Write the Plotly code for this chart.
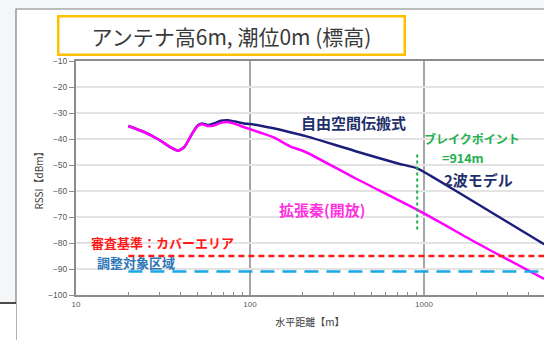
import plotly.graph_objects as go

# ---- data -----------------------------------------------------------------
# horizontal distance [m] and received level [dBm]
hata_dist = [20, 25, 30, 35, 38.7, 42, 46, 50, 53, 57, 62, 68, 74, 82, 92, 100,
             115, 137, 170, 207, 400, 1000, 2000, 4900]
hata_rssi = [-35.0, -37.5, -40.3, -43.2, -44.5, -43.0, -38.5, -35.0, -34.3, -35.0,
             -34.8, -33.8, -33.5, -34.2, -35.4, -36.2, -37.6, -39.4, -42.8, -44.9,
             -55.0, -68.6, -79.9, -93.8]

two_ray_dist = [20, 25, 30, 35, 38.7, 42, 46, 50, 53, 57, 62, 68, 74, 82, 92, 100,
                115, 137, 170, 207, 400, 700, 914, 1100, 2000, 4900]
two_ray_rssi = [-35.0, -37.5, -40.3, -43.2, -44.5, -43.0, -38.5, -34.8, -34.0, -34.6,
                -34.0, -33.0, -32.8, -33.3, -34.0, -34.2, -34.9, -35.9, -37.4, -38.8,
                -44.6, -49.3, -51.3, -54.3, -64.7, -80.5]

breakpoint_m = 914
review_level = -85      # 審査基準：カバーエリア
coord_level = -91       # 調整対象区域
level_start_m = 20
level_end_m = 6000
bp_line_top, bp_line_bottom = -46, -75

x_ticks = [10, 100, 1000]
x_tick_text = ["10", "100", "1000"]
x_minor = [d * m for d in (10, 100, 1000) for m in range(2, 10)]

# ---- layout helpers (pixel -> paper) ---------------------------------------
W, H = 544, 340


def px(x):
    return x / W


def py(y):
    return 1 - y / H


JP = "Noto Sans CJK JP"
NAVY_LINE = "#1c1f7a"
NAVY_TEXT = "#1f2f6b"

fig = go.Figure()

fig.add_trace(go.Scatter(x=two_ray_dist, y=two_ray_rssi, mode="lines",
                         line=dict(color=NAVY_LINE, width=2.5, shape="spline", smoothing=0.6),
                         hoverinfo="skip"))
fig.add_trace(go.Scatter(x=hata_dist, y=hata_rssi, mode="lines",
                         line=dict(color="#ff00ff", width=2.5, shape="spline", smoothing=0.6),
                         hoverinfo="skip"))
fig.add_trace(go.Scatter(x=[level_start_m, level_end_m], y=[review_level, review_level],
                         mode="lines", line=dict(color="#ff1a1a", width=2.5, dash="6px,4px"),
                         hoverinfo="skip"))
fig.add_trace(go.Scatter(x=[level_start_m, level_end_m], y=[coord_level, coord_level],
                         mode="lines", line=dict(color="#18a8e8", width=2.5, dash="14px,8px"),
                         hoverinfo="skip"))
fig.add_trace(go.Scatter(x=[breakpoint_m, breakpoint_m], y=[bp_line_top, bp_line_bottom],
                         mode="lines", line=dict(color="#22b050", width=2, dash="dot"),
                         hoverinfo="skip"))

shapes = [
    # page background and the white panel
    dict(type="rect", xref="paper", yref="paper", x0=0, x1=1, y0=0, y1=1,
         fillcolor="#f5f6f7", line=dict(width=0), layer="below"),
    dict(type="rect", xref="paper", yref="paper", x0=px(16), x1=1.02, y0=-0.02, y1=py(9),
         fillcolor="white", line=dict(color="#7f7f7f", width=1.2), layer="below"),
    dict(type="rect", xref="paper", yref="paper", x0=0, x1=px(16), y0=0, y1=py(303),
         fillcolor="white", line=dict(width=0), layer="below"),
    dict(type="line", xref="paper", yref="paper", x0=0, x1=px(16), y0=py(303), y1=py(303),
         line=dict(color="#111111", width=1.5), layer="below"),
]

annotations = [
    dict(text="アンテナ高6m, 潮位0m (標高)", xref="paper", yref="paper",
         x=px(231), y=py(36), showarrow=False, width=344, height=36,
         bordercolor="#ffc000", borderwidth=2.5, borderpad=0, bgcolor="white",
         font=dict(family=JP, size=21, color="#3a3a3a")),
    dict(text="<b>自由空間伝搬式</b>", x=px(353), y=py(122),
         font=dict(family=JP, size=15, color=NAVY_TEXT)),
    dict(text="<b>ブレイクポイント</b>", x=px(472), y=py(138),
         font=dict(family=JP, size=12, color="#22b050")),
    dict(text="<b>=914m</b>", x=px(463), y=py(157),
         font=dict(family=JP, size=12.5, color="#22b050")),
    dict(text="<b>2波モデル</b>", x=px(478), y=py(179),
         font=dict(family=JP, size=15, color=NAVY_TEXT)),
    dict(text="<b>拡張秦(開放)</b>", x=px(322), y=py(209),
         font=dict(family=JP, size=15, color="#ff33e0")),
    dict(text="<b>審査基準：カバーエリア</b>", x=px(162), y=py(242),
         font=dict(family=JP, size=13, color="#ff1a1a")),
    dict(text="<b>調整対象区域</b>", x=px(136), y=py(262),
         font=dict(family=JP, size=13, color="#2e75b6")),
]
for a in annotations:
    a.setdefault("xref", "paper")
    a.setdefault("yref", "paper")
    a.setdefault("showarrow", False)
    a.setdefault("xanchor", "center")
    a.setdefault("yanchor", "middle")

fig.update_layout(
    width=W, height=H,
    margin=dict(l=0, r=0, t=0, b=0, autoexpand=False),
    paper_bgcolor="white",
    plot_bgcolor="rgba(0,0,0,0)",
    showlegend=False,
    shapes=shapes,
    annotations=annotations,
    xaxis=dict(
        type="log", range=[1, 3.6897],
        domain=[px(76), 1.0], automargin=False,
        tickvals=x_ticks, ticktext=x_tick_text, ticks="",
        tickfont=dict(family="Liberation Sans", size=8, color="#595959"),
        showgrid=True, gridcolor="#a6a6a6", gridwidth=1.5,
        showline=True, linecolor="#8c8c8c", linewidth=2, mirror=True,
        minor=dict(tickvals=x_minor, ticks="inside", ticklen=3, tickcolor="#8c8c8c",
                   tickwidth=1, showgrid=False),
        title=dict(text="水平距離【m】", standoff=11,
                   font=dict(family=JP, size=10, color="#404040")),
        zeroline=False,
    ),
    yaxis=dict(
        range=[-100, -10], domain=[py(295), py(61)], automargin=False,
        tick0=-100, dtick=10, ticks="outside", ticklen=5, tickcolor="#8c8c8c",
        tickfont=dict(family="Liberation Sans", size=8.5, color="#595959"),
        showgrid=True, gridcolor="#e3e3e3", gridwidth=2,
        showline=True, linecolor="#8c8c8c", linewidth=2,
        title=dict(text="RSSI【dBm】", standoff=3,
                   font=dict(family=JP, size=10, color="#404040")),
        zeroline=False,
    ),
)

fig.write_html("out.html")
